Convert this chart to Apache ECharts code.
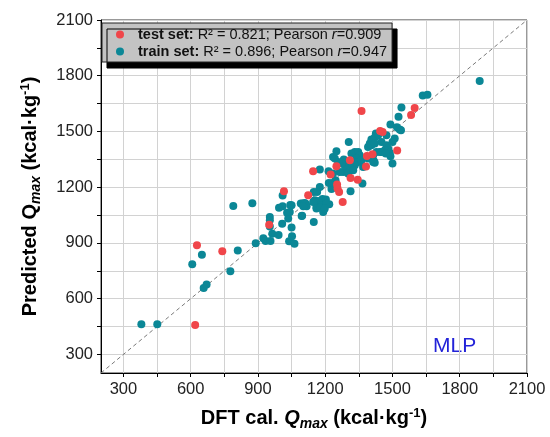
<!DOCTYPE html>
<html lang="en">

<head>
    <meta charset="UTF-8">
    <title>MLP parity plot</title>
    <script src="https://cdn.jsdelivr.net/npm/echarts@6.0.0/dist/echarts.min.js"></script>
    <style>
        body { margin: 0; background: #fff; }
        #chart { width: 550px; height: 437px; }
    </style>
</head>

<body>
    <div id="chart"></div>

    <script type="text/javascript">

        // points: [DFT cal., predicted]
        var testSet = [
            [620, 458], [628, 887], [741, 855], [950, 998], [1016, 1178], [1124, 1157],
            [1146, 1286], [1224, 1268], [1250, 1313], [1253, 1214], [1255, 1193], [1262, 1174],
            [1278, 1121], [1310, 1345], [1313, 1250], [1345, 1240], [1362, 1610], [1382, 1312],
            [1386, 1368], [1411, 1378], [1445, 1503], [1456, 1497], [1521, 1397], [1583, 1589],
            [1599, 1627]
        ];

        var trainSet = [
            [380, 462], [451, 462], [658, 657], [671, 676], [777, 747], [607, 785], [650, 837],
            [810, 859], [890, 898], [924, 925], [934, 910], [956, 910], [964, 950], [992, 943],
            [1039, 909], [1063, 896], [1052, 936], [1050, 983], [1008, 1004], [953, 1040],
            [953, 1022], [953, 988], [790, 1099], [875, 1114], [994, 1090], [1030, 1063],
            [1035, 1031], [1044, 1104], [1010, 1155], [1097, 1047], [1091, 1112],
            [1099, 1112], [1114, 1108], [1109, 1115], [1117, 1097], [1102, 1097], [1154, 1130],
            [1173, 1126], [1188, 1137], [1161, 1094], [1184, 1103], [1194, 1080], [1218, 1108],
            [1149, 1013], [1146, 1121], [1161, 1085], [1179, 1090], [1203, 1134], [1191, 1067],
            [1206, 1112], [1198, 1085], [1095, 1045], [1042, 1067], [1010, 1097], [1050, 1103],
            [1149, 1174], [1164, 1174], [1176, 1201], [1228, 1191], [1216, 1223], [1233, 1223],
            [1246, 1238], [1176, 1295], [1215, 1286], [1235, 1274], [1235, 1363], [1243, 1354],
            [1250, 1394], [1283, 1349], [1305, 1444], [1313, 1178], [1366, 1220],
            [1317, 1381], [1332, 1390], [1347, 1390], [1354, 1372], [1340, 1354], [1325, 1336],
            [1347, 1336], [1362, 1345], [1332, 1318], [1310, 1309], [1295, 1291], [1280, 1282],
            [1265, 1282], [1302, 1274], [1325, 1291], [1287, 1318], [1273, 1327], [1258, 1336],
            [1369, 1309], [1391, 1417], [1399, 1435], [1406, 1457], [1421, 1468], [1417, 1341],
            [1421, 1331], [1391, 1354], [1414, 1372], [1429, 1390], [1414, 1336],
            [1426, 1489], [1436, 1480], [1473, 1480], [1451, 1444], [1473, 1426], [1481, 1408],
            [1466, 1399], [1451, 1390], [1488, 1385], [1491, 1367], [1500, 1327], [1510, 1462],
            [1500, 1444], [1414, 1453], [1406, 1426], [1421, 1435], [1445, 1390], [1470, 1381],
            [1491, 1537], [1520, 1523], [1532, 1511], [1538, 1507], [1527, 1579], [1540, 1629],
            [1635, 1693], [1656, 1697], [1889, 1772]
        ];

        // legend statistics: [R2, Pearson r]
        var testStats = ['0.821', '0.909'];
        var trainStats = ['0.896', '0.947'];

        // axes
        var axisMin = 200, axisMax = 2100;
        var tickValues = [300, 450, 600, 750, 900, 1050, 1200, 1350, 1500, 1650, 1800, 1950, 2100];
        var labelValues = [300, 600, 900, 1200, 1500, 1800, 2100];
        var parityLine = [[200, 200], [2100, 2100]];

        var font = 'Liberation Sans, Arial, sans-serif';

        var titleRich = {
            q: { fontSize: 20, fontWeight: 'bold', fontStyle: 'italic', fontFamily: font, color: '#000' },
            qn: { fontSize: 20, fontWeight: 'bold', fontFamily: font, color: '#000' },
            sub: { fontSize: 14, fontWeight: 'bold', fontStyle: 'italic', fontFamily: font, color: '#000', padding: [12, 0, 0, 0] },
            sup: { fontSize: 13, fontWeight: 'bold', fontFamily: font, color: '#000', padding: [0, 0, 10, 0] }
        };

        function makeAxis(name, gap, rotate) {
            return {
                type: 'value',
                min: axisMin,
                max: axisMax,
                name: name,
                nameLocation: 'middle',
                nameGap: gap,
                nameRotate: rotate,
                nameTextStyle: { fontSize: 20, fontWeight: 'bold', fontFamily: font, color: '#000', rich: titleRich },
                axisLine: { show: true, onZero: false, lineStyle: { color: '#000', width: 1 } },
                axisTick: { show: true, inside: false, length: 4, customValues: tickValues, lineStyle: { color: '#000' } },
                axisLabel: {
                    customValues: labelValues, fontSize: 16.5, fontFamily: font, color: '#222', margin: 8,
                    formatter: function (v) { return String(v); }
                },
                splitLine: { show: true, lineStyle: { color: '#d2d2d2', width: 1 } }
            };
        }

        var xAxis = makeAxis('DFT cal. {q|Q}{sub|max} (kcal·kg{sup|-1})', 32, 0);
        var yAxis = makeAxis('Predicted {qn|Q}{sub|max} (kcal·kg{sup|-1})', 58, 90);

        var option = {
            animation: false,
            grid: {
                left: 101, right: 23, top: 20, bottom: 64,
                show: true, borderColor: '#333', borderWidth: 1, backgroundColor: '#fff'
            },
            xAxis: xAxis,
            yAxis: yAxis,
            legend: {
                data: ['test set', 'train set'],
                orient: 'vertical',
                left: 102,
                top: 23,
                padding: [4, 5, 3, 14],
                itemGap: 2,
                itemWidth: 8,
                itemHeight: 8,
                backgroundColor: '#c3c3c3',
                borderColor: '#222',
                borderWidth: 1,
                borderRadius: 0,
                shadowColor: '#000',
                shadowBlur: 0.5,
                shadowOffsetX: 5,
                shadowOffsetY: 6,
                textStyle: {
                    fontSize: 14.5, fontFamily: font, color: '#111',
                    rich: {
                        b: { fontSize: 14.5, fontWeight: 'bold', fontFamily: font, color: '#111', padding: [0, 0, 0, 9] },
                        i: { fontSize: 14.5, fontStyle: 'italic', fontFamily: font, color: '#111' }
                    }
                },
                formatter: function (name) {
                    var s = name === 'test set' ? testStats : trainStats;
                    return '{b|' + name + ':} R² = ' + s[0] + '; Pearson {i|r}=' + s[1];
                }
            },
            graphic: [{
                type: 'text',
                left: 433,
                top: 336,
                style: { text: 'MLP', fontSize: 21, fontFamily: font, fill: '#2323d8' }
            }],
            series: [
                {
                    type: 'line',
                    data: parityLine,
                    symbol: 'none',
                    silent: true,
                    lineStyle: { color: '#7a7a7a', width: 1, type: [4, 3] },
                    z: 1
                },
                {
                    name: 'train set',
                    type: 'scatter',
                    data: trainSet,
                    symbolSize: 8,
                    itemStyle: { color: '#0b8796', opacity: 1 },
                    z: 2
                },
                {
                    name: 'test set',
                    type: 'scatter',
                    data: testSet,
                    symbolSize: 8,
                    itemStyle: { color: '#f0464a', opacity: 1 },
                    z: 3
                }
            ]
        };

        echarts.init(document.getElementById('chart')).setOption(option);

    </script>
</body>

</html>
